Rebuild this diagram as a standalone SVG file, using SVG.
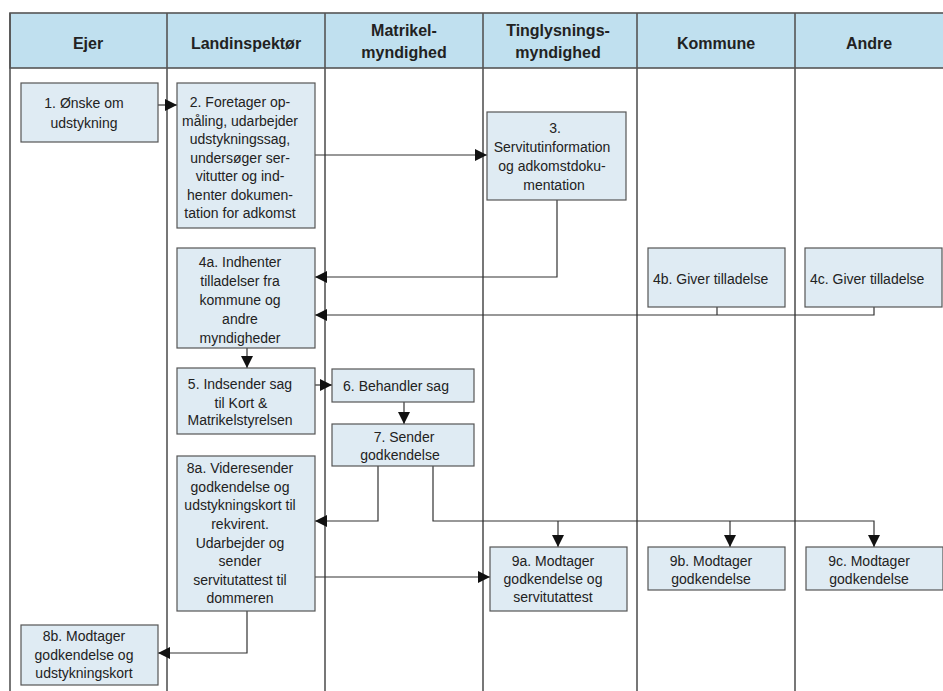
<svg xmlns="http://www.w3.org/2000/svg" width="943" height="691" viewBox="0 0 943 691">
<defs>
<style>
.lane{stroke:#555;stroke-width:1.6;fill:none}
.hdr{fill:#c0e0ef;stroke:#555;stroke-width:1.6}
.ht{font-family:"Liberation Sans",Arial,sans-serif;font-size:16px;font-weight:bold;fill:#222;text-anchor:middle}
.box{fill:#dfebf3;stroke:#555;stroke-width:1.2}
.t{font-family:"Liberation Sans",Arial,sans-serif;font-size:14px;fill:#222;text-anchor:middle}
.ts{font-family:"Liberation Sans",Arial,sans-serif;font-size:14px;fill:#222;text-anchor:start}
.c{stroke:#333;stroke-width:1.2;fill:none}
.a{marker-end:url(#ah)}
</style>
<marker id="ah" markerWidth="12" markerHeight="12" refX="12" refY="6" orient="auto" markerUnits="userSpaceOnUse">
<path d="M0,0 L12,6 L0,12 z" fill="#111"/>
</marker>
</defs>
<rect width="943" height="691" fill="#fff"/>
<g id="lanes">
<rect class="hdr" x="10" y="13" width="940" height="55"/>
<line class="lane" x1="10" y1="13" x2="10" y2="691"/>
<line class="lane" x1="167" y1="13" x2="167" y2="691"/>
<line class="lane" x1="325" y1="13" x2="325" y2="691"/>
<line class="lane" x1="483" y1="13" x2="483" y2="691"/>
<line class="lane" x1="637" y1="13" x2="637" y2="691"/>
<line class="lane" x1="795" y1="13" x2="795" y2="691"/>
<text class="ht" x="88" y="49">Ejer</text>
<text class="ht" x="246" y="49">Landinspektør</text>
<text class="ht" x="404" y="36">Matrikel-</text>
<text class="ht" x="404" y="58">myndighed</text>
<text class="ht" x="558" y="36">Tinglysnings-</text>
<text class="ht" x="558" y="58">myndighed</text>
<text class="ht" x="716" y="49">Kommune</text>
<text class="ht" x="869" y="49">Andre</text>
</g>
<g id="connectors">
<path class="c a" d="M158,105 H177"/>
<path class="c a" d="M315,155 H487"/>
<path class="c a" d="M557,200 V277 H315"/>
<path class="c a" d="M874,307 V315 H315"/>
<path class="c" d="M717,307 V315"/>
<path class="c a" d="M247,348 V368"/>
<path class="c a" d="M315,385 H332"/>
<path class="c a" d="M404,402 V424"/>
<path class="c a" d="M378,466 V521 H315"/>
<path class="c a" d="M433,466 V521 H874 V547"/>
<path class="c a" d="M558,521 V547"/>
<path class="c a" d="M730,521 V547"/>
<path class="c a" d="M315,577 H490"/>
<path class="c a" d="M247,611 V653 H158"/>
</g>
<g id="n1">
<rect class="box" x="21" y="83" width="137" height="59"/>
<text class="t" x="84" y="108">1. Ønske om</text>
<text class="t" x="84" y="128">udstykning</text>
</g>
<g id="n2">
<rect class="box" x="177" y="83" width="138" height="145"/>
<text class="t" x="240" y="107">2. Foretager op-</text>
<text class="t" x="240" y="125.5">måling, udarbejder</text>
<text class="t" x="240" y="144">udstykningssag,</text>
<text class="t" x="240" y="162.5">undersøger ser-</text>
<text class="t" x="240" y="181">vitutter og ind-</text>
<text class="t" x="240" y="199.5">henter dokumen-</text>
<text class="t" x="240" y="218">tation for adkomst</text>
</g>
<g id="n3">
<rect class="box" x="487" y="112" width="139" height="88"/>
<text class="t" x="555" y="133">3.</text>
<text class="t" x="552" y="152">Servitutinformation</text>
<text class="t" x="552" y="171">og adkomstdoku-</text>
<text class="t" x="554" y="190">mentation</text>
</g>
<g id="n4a">
<rect class="box" x="177" y="248" width="138" height="100"/>
<text class="t" x="240" y="267">4a. Indhenter</text>
<text class="t" x="240" y="286">tilladelser fra</text>
<text class="t" x="240" y="305">kommune og</text>
<text class="t" x="240" y="324">andre</text>
<text class="t" x="240" y="343">myndigheder</text>
</g>
<g id="n4b">
<rect class="box" x="648" y="248" width="137" height="59"/>
<text class="ts" x="653" y="284">4b. Giver tilladelse</text>
</g>
<g id="n4c">
<rect class="box" x="805" y="248" width="137" height="59"/>
<text class="ts" x="810" y="284">4c. Giver tilladelse</text>
</g>
<g id="n5">
<rect class="box" x="177" y="368" width="138" height="66"/>
<text class="t" x="240" y="389">5. Indsender sag</text>
<text class="t" x="241" y="408">til Kort &amp;</text>
<text class="t" x="240" y="425">Matrikelstyrelsen</text>
</g>
<g id="n6">
<rect class="box" x="332" y="369" width="142" height="33"/>
<text class="t" x="396" y="391">6. Behandler sag</text>
</g>
<g id="n7">
<rect class="box" x="332" y="424" width="142" height="42"/>
<text class="t" x="404" y="442">7. Sender</text>
<text class="t" x="400" y="460">godkendelse</text>
</g>
<g id="n8a">
<rect class="box" x="177" y="456" width="138" height="155"/>
<text class="t" x="240" y="473">8a. Videresender</text>
<text class="t" x="240" y="492">godkendelse og</text>
<text class="t" x="240" y="510">udstykningskort til</text>
<text class="t" x="240" y="529">rekvirent.</text>
<text class="t" x="240" y="548">Udarbejder og</text>
<text class="t" x="240" y="566">sender</text>
<text class="t" x="240" y="585">servitutattest til</text>
<text class="t" x="240" y="603">dommeren</text>
</g>
<g id="n8b">
<rect class="box" x="21" y="625" width="137" height="60"/>
<text class="t" x="84" y="641">8b. Modtager</text>
<text class="t" x="84" y="660">godkendelse og</text>
<text class="t" x="84" y="678">udstykningskort</text>
</g>
<g id="n9a">
<rect class="box" x="490" y="547" width="137" height="64"/>
<text class="t" x="553" y="566">9a. Modtager</text>
<text class="t" x="553" y="584">godkendelse og</text>
<text class="t" x="553" y="602">servitutattest</text>
</g>
<g id="n9b">
<rect class="box" x="648" y="547" width="137" height="43"/>
<text class="t" x="711" y="566">9b. Modtager</text>
<text class="t" x="711" y="584">godkendelse</text>
</g>
<g id="n9c">
<rect class="box" x="806" y="547" width="137" height="43"/>
<text class="t" x="869" y="566">9c. Modtager</text>
<text class="t" x="869" y="584">godkendelse</text>
</g>
</svg>
